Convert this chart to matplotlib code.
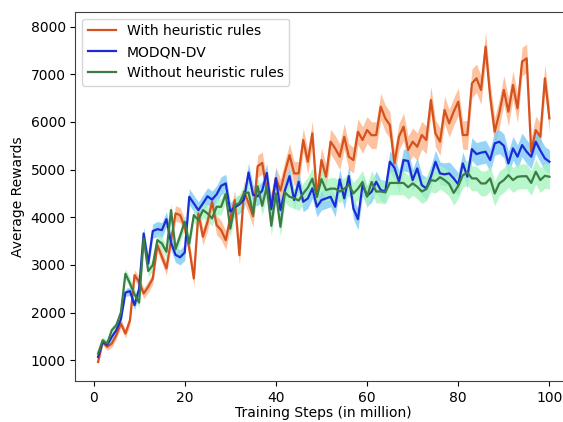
import numpy as np
import matplotlib
matplotlib.use('Agg')
from matplotlib import pyplot as plt

steps = list(range(1, 101))

with_rules = [965, 1385, 1280, 1350, 1525, 1770, 1560, 1840, 2785, 2645,
              2400, 2540, 2715, 3415, 3170, 2925, 3520, 4080, 4045, 3800,
              3350, 2715, 4080, 3590, 3900, 4320, 3835, 3730, 3520, 3975,
              4360, 3205, 4540, 4300, 4020, 5070, 5140, 4570, 4280, 4815,
              4560, 4950, 5305, 4920, 4920, 5620, 5165, 5760, 4430, 5200,
              4850, 5585, 5445, 5270, 5690, 5270, 5200, 5795, 5620, 5830,
              5720, 5725, 6320, 6075, 5935, 5130, 5690, 5900, 5410, 5585,
              5480, 5725, 5620, 6460, 5760, 5585, 6250, 5970, 6215, 6425,
              5725, 5725, 6810, 6915, 6670, 7580, 6530, 5795, 6180, 6670,
              6215, 6775, 6285, 7265, 7335, 5375, 5830, 5690, 6915, 6075]

modqn_dv = [1070, 1385, 1320, 1490, 1630, 1860, 2420, 2450, 2155, 2500,
            3660, 3030, 3710, 3750, 3730, 3960, 3470, 3210, 3160, 3260,
            4430, 4290, 4150, 4290, 4440, 4370, 4480, 4660, 4710, 4120,
            4210, 4270, 4370, 4940, 4470, 4440, 4560, 4930, 4170, 4820,
            4150, 4570, 4864, 4360, 4745, 4325, 4395, 4605, 4220, 4360,
            4395, 4430, 4220, 4794, 4395, 4864, 4185, 3960, 4675, 4450,
            4535, 4745, 4570, 4540, 5165, 5040, 4745, 5200, 5180, 4780,
            5025, 4675, 4605, 4850, 5165, 4920, 4900, 4920, 4815, 4690,
            5130, 4850, 5430, 5325, 5355, 5375, 5200, 5550, 5585, 5500,
            5130, 5445, 5270, 5515, 5375, 5270, 5585, 5400, 5235, 5165]

without_rules = [1140, 1420, 1350, 1630, 1735, 2000, 2815, 2610, 2380, 2210,
                 3550, 2870, 2995, 3520, 3450, 3275, 4150, 3330, 3610, 3905,
                 3450, 4045, 3940, 4150, 4080, 3975, 4220, 4220, 4490, 3760,
                 4250, 4300, 4500, 4520, 4080, 4650, 4240, 4640, 3820, 4500,
                 3800, 4520, 4430, 4400, 4350, 4500, 4620, 4810, 4430, 4800,
                 4570, 4600, 4600, 4540, 4600, 4680, 4500, 4600, 4740, 4430,
                 4740, 4540, 4540, 4520, 4720, 4720, 4720, 4720, 4630, 4710,
                 4640, 4540, 4590, 4780, 4760, 4840, 4780, 4700, 4510, 4660,
                 4880, 4940, 4815, 4815, 4710, 4710, 4815, 4500, 4710, 4780,
                 4885, 4780, 4850, 4860, 4860, 4720, 4955, 4780, 4870, 4850]

# half width of the shaded bands
with_rules_band = [60, 70, 70, 80, 80, 90, 90, 100, 110, 110,
                   110, 120, 120, 130, 130, 140, 150, 160, 160, 160,
                   170, 170, 180, 180, 190, 190, 200, 200, 200, 210,
                   210, 210, 220, 220, 220, 230, 230, 230, 230, 240,
                   240, 240, 240, 250, 250, 250, 250, 260, 260, 260,
                   260, 260, 270, 270, 270, 270, 270, 270, 280, 280,
                   280, 280, 280, 280, 280, 280, 280, 290, 290, 290,
                   290, 290, 290, 290, 290, 290, 290, 290, 290, 290,
                   300, 300, 300, 300, 300, 310, 300, 300, 300, 300,
                   300, 300, 300, 300, 300, 290, 290, 290, 300, 290]

modqn_dv_band = [40, 50, 50, 60, 60, 70, 80, 90, 100, 110,
                 130, 140, 150, 160, 160, 160, 160, 160, 160, 170,
                 170, 170, 170, 180, 180, 180, 180, 190, 190, 190,
                 190, 190, 190, 200, 200, 200, 200, 200, 200, 200,
                 200, 200, 200, 200, 210, 210, 210, 210, 210, 210,
                 210, 210, 210, 220, 220, 220, 220, 220, 220, 220,
                 220, 220, 220, 230, 230, 230, 230, 230, 230, 230,
                 230, 230, 230, 230, 240, 240, 240, 240, 240, 240,
                 240, 240, 240, 240, 240, 240, 240, 250, 250, 250,
                 250, 250, 250, 250, 250, 250, 250, 250, 250, 250]

without_rules_band = [60, 70, 70, 80, 80, 90, 110, 110, 110, 110,
                      120, 120, 120, 130, 130, 130, 140, 140, 140, 150,
                      150, 150, 160, 160, 160, 160, 170, 170, 170, 180,
                      180, 180, 180, 190, 190, 190, 200, 200, 200, 200,
                      200, 210, 210, 210, 210, 220, 220, 220, 220, 220,
                      230, 230, 230, 230, 230, 230, 230, 240, 240, 240,
                      240, 240, 240, 240, 240, 250, 250, 250, 250, 250,
                      250, 250, 250, 250, 250, 250, 250, 260, 260, 260,
                      260, 260, 260, 260, 260, 260, 260, 260, 260, 260,
                      260, 260, 260, 260, 260, 260, 260, 260, 260, 260]

series = [
    ('With heuristic rules', with_rules, with_rules_band, '#d5511d', '#fdb58a'),
    ('MODQN-DV', modqn_dv, modqn_dv_band, '#1c2bd6', '#7dcbf7'),
    ('Without heuristic rules', without_rules, without_rules_band, '#3b7d45', '#a6f5bf'),
]

fig = plt.figure(figsize=(5.63, 4.22), dpi=100)
ax = fig.add_axes([0.1341, 0.0967, 0.8819, 0.8758])

x = np.array(steps)
for label, vals, band, line_col, band_col in series:
    vals = np.array(vals)
    band = np.array(band)
    ax.fill_between(x, vals - band, vals + band, color=band_col, alpha=0.8, linewidth=0)
for label, vals, band, line_col, band_col in series:
    ax.plot(x, vals, color=line_col, linewidth=1.6, label=label)

ax.set_xlim(-3.95, 104.95)
ax.set_ylim(560, 8315)
ax.set_xticks([0, 20, 40, 60, 80, 100])
ax.set_yticks([1000, 2000, 3000, 4000, 5000, 6000, 7000, 8000])
ax.set_xlabel('Training Steps (in million)', labelpad=1)
ax.set_ylabel('Average Rewards')
for sp in ax.spines.values():
    sp.set_color('#404040')
ax.spines['right'].set_visible(False)
ax.legend(loc='upper left')

fig.savefig('out.png', dpi=100)
